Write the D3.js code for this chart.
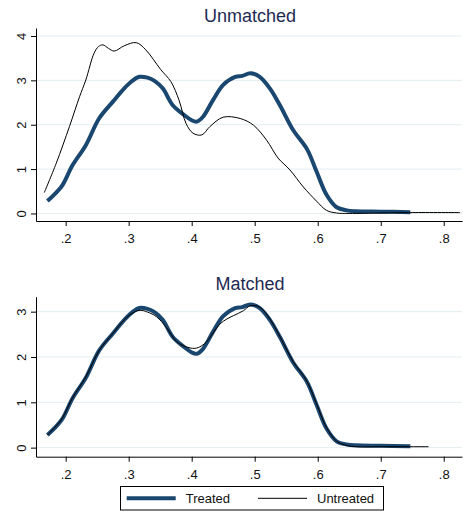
<!DOCTYPE html>
<html>
<head>
<meta charset="utf-8">
<script src="https://cdn.jsdelivr.net/npm/d3@7"></script>
<style>
  body { margin: 0; background: #fff; }
  svg { display: block; font-family: "Liberation Sans", Arial, sans-serif; }
</style>
</head>
<body>
<script>
// Treated sample (same in both panels)
var treatedX = [0.171, 0.185, 0.195, 0.211, 0.232, 0.253, 0.275, 0.293, 0.305, 0.317, 0.330, 0.341, 0.354, 0.370, 0.388, 0.400, 0.408, 0.418, 0.434, 0.450, 0.469, 0.480, 0.493, 0.508, 0.524, 0.540, 0.561, 0.583, 0.598, 0.614, 0.630, 0.646, 0.660, 0.700, 0.747];
var treatedY = [0.28, 0.47, 0.64, 1.09, 1.54, 2.14, 2.52, 2.82, 2.98, 3.08, 3.06, 2.99, 2.82, 2.44, 2.22, 2.10, 2.07, 2.18, 2.56, 2.90, 3.08, 3.10, 3.16, 3.08, 2.82, 2.44, 1.88, 1.45, 0.95, 0.42, 0.14, 0.07, 0.05, 0.04, 0.03];

// Untreated, before matching
var unmatchedX = [0.166, 0.185, 0.206, 0.222, 0.232, 0.245, 0.252, 0.259, 0.268, 0.277, 0.293, 0.312, 0.327, 0.351, 0.367, 0.380, 0.391, 0.402, 0.416, 0.429, 0.450, 0.477, 0.498, 0.519, 0.537, 0.556, 0.577, 0.598, 0.614, 0.630, 0.650, 0.700, 0.750, 0.826];
var unmatchedY = [0.47, 1.13, 1.96, 2.63, 3.01, 3.61, 3.76, 3.80, 3.72, 3.66, 3.78, 3.85, 3.69, 3.24, 2.97, 2.55, 2.03, 1.81, 1.77, 1.96, 2.17, 2.14, 1.99, 1.65, 1.25, 0.98, 0.60, 0.28, 0.07, 0.01, 0.0, 0.01, 0.02, 0.02];

// Untreated, after matching
var matchedX = [0.171, 0.185, 0.195, 0.211, 0.232, 0.253, 0.275, 0.293, 0.305, 0.318, 0.330, 0.344, 0.360, 0.376, 0.390, 0.405, 0.415, 0.424, 0.435, 0.445, 0.456, 0.466, 0.482, 0.493, 0.508, 0.524, 0.540, 0.561, 0.583, 0.598, 0.614, 0.630, 0.646, 0.660, 0.700, 0.776];
var matchedY = [0.28, 0.48, 0.66, 1.10, 1.56, 2.14, 2.52, 2.82, 2.96, 3.03, 2.99, 2.89, 2.65, 2.34, 2.23, 2.19, 2.24, 2.34, 2.55, 2.73, 2.84, 2.91, 3.02, 3.13, 3.10, 2.84, 2.45, 1.90, 1.46, 0.97, 0.44, 0.14, 0.05, 0.02, 0.02, 0.02];

var xTicks = [0.2, 0.3, 0.4, 0.5, 0.6, 0.7, 0.8];
var yTicksTop = [0, 1, 2, 3, 4];
var yTicksBottom = [0, 1, 2, 3];
var seriesNames = ["Treated", "Untreated"];

var treatedColor = "#1a476f";
var titleColor = "#1f2a52";
var gridColor = "#e3ecf0";

var svg = d3.select("body").append("svg")
  .attr("width", 463)
  .attr("height", 515);

function zip(xs, ys) {
  return xs.map(function(x, i) { return { x: x, y: ys[i] }; });
}

var xScale = d3.scaleLinear().domain([0.1529, 0.829]).range([36, 462]);

function drawPanel(opts) {
  var y = d3.scaleLinear().domain(opts.yDomain).range(opts.yRange);
  var g = svg.append("g");

  // gridlines
  g.selectAll("line.grid")
    .data(opts.yTicks)
    .enter().append("line")
    .attr("class", "grid")
    .attr("x1", xScale.range()[0])
    .attr("x2", xScale.range()[1])
    .attr("y1", d => y(d))
    .attr("y2", d => y(d))
    .attr("stroke", gridColor)
    .attr("stroke-width", 1);

  var line = d3.line()
    .x(d => xScale(d.x))
    .y(d => y(d.y))
    .curve(d3.curveCatmullRom.alpha(0.5));

  g.append("path")
    .datum(zip(treatedX, treatedY))
    .attr("d", line)
    .attr("fill", "none")
    .attr("stroke", treatedColor)
    .attr("stroke-width", 4)
    .attr("stroke-linejoin", "round");

  g.append("path")
    .datum(zip(opts.untreatedX, opts.untreatedY))
    .attr("d", line)
    .attr("fill", "none")
    .attr("stroke", "#000")
    .attr("stroke-width", 1);

  // axes
  var yAxis = d3.axisLeft(y).tickValues(opts.yTicks).tickSize(5).tickSizeOuter(0).tickFormat(d3.format("d"));
  var yg = g.append("g")
    .attr("transform", "translate(" + xScale.range()[0] + ",0)")
    .call(yAxis);
  yg.selectAll("text")
    .attr("transform", "rotate(-90)")
    .attr("x", 0)
    .attr("y", -10)
    .attr("dy", 0)
    .attr("text-anchor", "middle")
    .style("font-size", "13px")
    .attr("fill", "#111");

  var xAxis = d3.axisBottom(xScale).tickValues(xTicks).tickSize(5).tickPadding(8).tickSizeOuter(0)
    .tickFormat(d => d3.format(".1f")(d).replace(/^0/, ""));
  var xg = g.append("g")
    .attr("transform", "translate(0," + opts.yRange[0] + ")")
    .call(xAxis);
  xg.selectAll("text")
    .style("font-size", "13px")
    .attr("fill", "#111");

  svg.selectAll(".domain").attr("stroke", "#000");

  g.append("text")
    .attr("x", 250)
    .attr("y", opts.titleY)
    .attr("text-anchor", "middle")
    .style("font-size", "18px")
    .attr("fill", titleColor)
    .text(opts.title);
}

drawPanel({
  title: "Unmatched",
  titleY: 21.5,
  yDomain: [-0.17, 4.18],
  yRange: [221, 28],
  yTicks: yTicksTop,
  untreatedX: unmatchedX,
  untreatedY: unmatchedY
});

drawPanel({
  title: "Matched",
  titleY: 290,
  yDomain: [-0.2, 3.33],
  yRange: [456.7, 296.7],
  yTicks: yTicksBottom,
  untreatedX: matchedX,
  untreatedY: matchedY
});

// legend
var legend = svg.append("g");
legend.append("rect")
  .attr("x", 120.5)
  .attr("y", 486.5)
  .attr("width", 263)
  .attr("height", 23.5)
  .attr("fill", "#fff")
  .attr("stroke", "#000")
  .attr("stroke-width", 1);

var legendItems = [
  { name: seriesNames[0], x: 126.7, color: treatedColor, width: 4 },
  { name: seriesNames[1], x: 258, color: "#000", width: 1 }
];
legendItems.forEach(function(item) {
  legend.append("line")
    .attr("x1", item.x).attr("x2", item.x + 49)
    .attr("y1", 498.3).attr("y2", 498.3)
    .attr("stroke", item.color)
    .attr("stroke-width", item.width);
  legend.append("text")
    .attr("x", item.x + 59)
    .attr("y", 503)
    .style("font-size", "13px")
    .attr("fill", "#111")
    .text(item.name);
});
</script>
</body>
</html>
